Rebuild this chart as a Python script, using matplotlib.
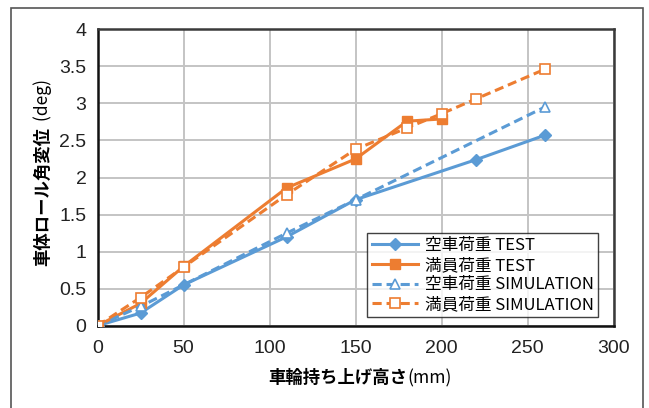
import matplotlib
matplotlib.use("Agg")
import matplotlib.pyplot as plt
from matplotlib.patches import Rectangle

plt.rcParams["font.family"] = ["Noto Sans CJK JP", "DejaVu Sans"]

# 車輪持ち上げ高さ (mm) と 車体ロール角変位 (deg)
empty_test_x = [0, 25, 50, 110, 150, 220, 260]
empty_test_y = [0, 0.17, 0.55, 1.2, 1.7, 2.24, 2.57]

full_test_x = [0, 25, 50, 110, 150, 180, 200]
full_test_y = [0, 0.3, 0.8, 1.86, 2.25, 2.76, 2.79]

empty_sim_x = [0, 25, 110, 150, 260]
empty_sim_y = [0, 0.26, 1.25, 1.7, 2.95]

full_sim_x = [0, 25, 50, 110, 150, 180, 200, 220, 260]
full_sim_y = [0, 0.38, 0.79, 1.77, 2.38, 2.67, 2.86, 3.06, 3.46]

labels = ["空車荷重 TEST", "満員荷重 TEST", "空車荷重 SIMULATION", "満員荷重 SIMULATION"]

BLUE = "#5B9BD5"
ORANGE = "#ED7D31"

W, H = 649, 408
fig = plt.figure(figsize=(W / 100, H / 100), dpi=100)
fig.patch.set_facecolor("white")

# 外枠
fig.patches.append(Rectangle((11 / W, -0.05), (643 - 11) / W, 1.05 - 8 / H,
                             transform=fig.transFigure, fill=False,
                             edgecolor="#555555", linewidth=1.2))

ax = fig.add_axes([97.5 / W, 1 - 325.7 / H, (613.5 - 97.5) / W, (325.7 - 29.3) / H])

ax.plot(empty_test_x, empty_test_y, "-", color=BLUE, lw=2.2,
        marker="D", ms=6.5, label=labels[0], zorder=3)
ax.plot(full_test_x, full_test_y, "-", color=ORANGE, lw=2.2,
        marker="s", ms=7.5, label=labels[1], zorder=3)
ax.plot(empty_sim_x, empty_sim_y, "--", color=BLUE, lw=2.2, dashes=(3, 1.6),
        marker="^", ms=7.5, mfc="white", mec=BLUE, mew=1.2, label=labels[2], zorder=4)
ax.plot(full_sim_x, full_sim_y, "--", color=ORANGE, lw=2.2, dashes=(3, 1.6),
        marker="s", ms=7.5, mfc="white", mec=ORANGE, mew=1.2, label=labels[3], zorder=4)

ax.set_xlim(0, 300)
ax.set_ylim(0, 4)
ax.set_xticks(range(0, 301, 50))
ax.set_yticks([0, 0.5, 1, 1.5, 2, 2.5, 3, 3.5, 4])
ax.set_yticklabels(["0", "0.5", "1", "1.5", "2", "2.5", "3", "3.5", "4"])
ax.tick_params(length=0, labelsize=14, colors="#222222")
ax.tick_params(axis="y", pad=8)
ax.tick_params(axis="x", pad=10)
for lbl in ax.get_xticklabels() + ax.get_yticklabels():
    lbl.set_fontfamily(["Liberation Sans", "DejaVu Sans"])
ax.grid(True, color="#c4c4c4", lw=1.4)
ax.set_axisbelow(True)
for side in ["left", "bottom"]:
    ax.spines[side].set_color("#111111")
    ax.spines[side].set_linewidth(1.8)
for side in ["top", "right"]:
    ax.spines[side].set_color("#3a3a3a")
    ax.spines[side].set_linewidth(1.8)

leg = ax.legend(loc="lower right", bbox_to_anchor=(598 / W, 1 - 317 / H),
                bbox_transform=fig.transFigure, fontsize=12, frameon=True,
                fancybox=False, edgecolor="#111111", handlelength=2.8,
                handletextpad=0.4, borderpad=0.25, labelspacing=0.15,
                borderaxespad=0)
leg.get_frame().set_linewidth(1.0)

# 軸ラベル（日本語部分は太字、単位は標準）
fig.text(407 / W, 1 - 378 / H, "車輪持ち上げ高さ", ha="right", va="center",
         fontsize=12.5, fontweight="bold")
fig.text(407 / W, 1 - 378 / H, "(mm)", ha="left", va="center", fontsize=12.5)
fig.text(43 / W, 1 - 127 / H, "車体ロール角変位", ha="center", va="top",
         rotation=90, fontsize=12.5, fontweight="bold")
fig.text(43 / W, 1 - 125 / H, " (deg)", ha="center", va="bottom",
         rotation=90, fontsize=12.5)

fig.savefig("out.png", dpi=100)
